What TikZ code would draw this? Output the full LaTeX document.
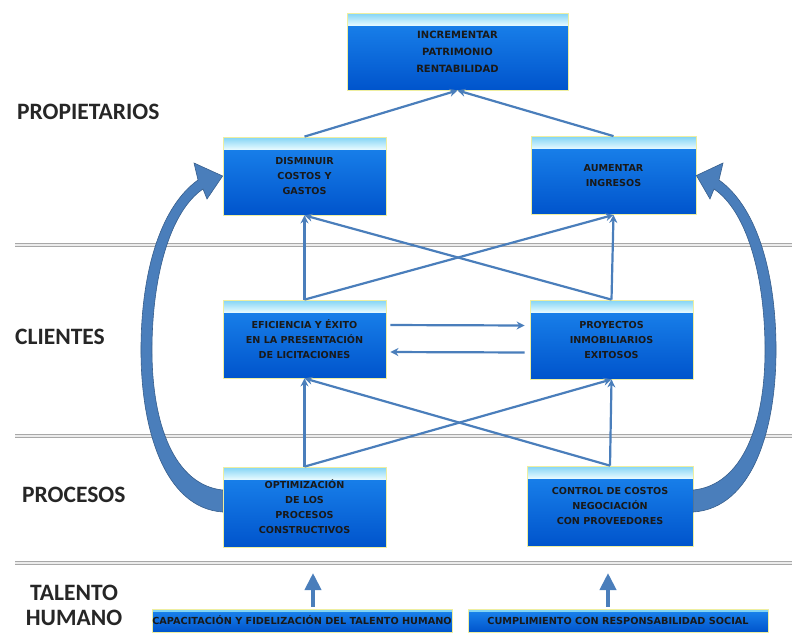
\documentclass[tikz,border=0pt]{standalone}
\usepackage{fontspec}
\setmainfont{DejaVu Sans}
\newfontfamily\labelfont{Carlito}
\usetikzlibrary{arrows.meta,calc}

\definecolor{linkblue}{RGB}{74,126,187}
\definecolor{boxtop}{RGB}{28,134,238}
\definecolor{boxbottom}{RGB}{0,84,204}
\definecolor{bandtop}{RGB}{130,212,245}
\definecolor{bandbottom}{RGB}{228,249,255}
\definecolor{boxedge}{RGB}{238,238,160}
\definecolor{rulegray}{RGB}{168,168,168}

\tikzset{
    goalbox/.style={draw=boxedge, line width=0.8pt, minimum width=163pt, minimum height=78pt,
        inner sep=0pt, align=center, text=black!90,
        font=\fontsize{9.6}{15}\selectfont\bfseries,
        path picture={
            \fill[top color=boxtop, bottom color=boxbottom]
                (path picture bounding box.south west) rectangle (path picture bounding box.north east);
            \fill[top color=bandtop, bottom color=bandbottom]
                ([yshift=-12pt]path picture bounding box.north west) rectangle (path picture bounding box.north east);
        }},
    basebar/.style={draw=boxedge, line width=0.8pt, minimum width=300pt, minimum height=23pt,
        inner sep=0pt, text=black!90, font=\fontsize{9.7}{10}\selectfont\bfseries,
        path picture={
            \fill[top color=boxtop, bottom color=boxbottom]
                (path picture bounding box.south west) rectangle (path picture bounding box.north east);
            \fill[bandtop]
                ([yshift=-3pt]path picture bounding box.north west) rectangle (path picture bounding box.north east);
        }},
    sectlabel/.style={font=\labelfont\fontsize{23.5}{25}\selectfont\bfseries, text=black!85, inner sep=0pt},
    link/.style={->, linkblue, line width=2.2pt},
    lift/.style={-{Triangle[length=17pt,width=16pt]}, linkblue, line width=4pt},
    bigarrow/.style={fill=linkblue, draw=linkblue!75!black, line width=0.6pt}
}

\begin{document}
\begin{tikzpicture}[x=1pt, y=-1pt, >={Stealth[length=8pt,width=8pt]}]
    \useasboundingbox (0,0) rectangle (792,633);

    % ====================
    % 1. Perspective rules and labels
    % ====================
    \foreach \y in {245, 436, 563} {
        \draw[rulegray, line width=4.5pt] (15,\y) -- (792,\y);
        \draw[white!85!gray, line width=1.3pt] (15,\y) -- (792,\y);
    }

    \node[sectlabel, anchor=west] (lprop) at (17,112) {PROPIETARIOS};
    \node[sectlabel, anchor=west] (lcli) at (15,337) {CLIENTES};
    \node[sectlabel, anchor=west] (lproc) at (22,495) {PROCESOS};
    \node[sectlabel, align=center] (ltal) at (74,605) {TALENTO\\HUMANO};

    % ====================
    % 2. Objectives
    % ====================
    \node[goalbox, minimum width=221pt, minimum height=77pt, font=\fontsize{10}{17}\selectfont\bfseries]
        (top) at (457.5,51.5) {INCREMENTAR\\PATRIMONIO\\RENTABILIDAD};

    \node[goalbox] (dism) at (304.5,176) {DISMINUIR\\COSTOS Y\\GASTOS};
    \node[goalbox, minimum width=165pt] (aum) at (613.5,175.5) {AUMENTAR\\INGRESOS};

    \node[goalbox] (efic) at (304.5,339) {EFICIENCIA Y ÉXITO\\EN LA PRESENTACIÓN\\DE LICITACIONES};
    \node[goalbox, minimum height=79pt] (proy) at (611.5,339.5) {PROYECTOS\\INMOBILIARIOS\\EXITOSOS};

    \node[goalbox, minimum height=80pt] (optim) at (304.5,507) {OPTIMIZACIÓN\\DE LOS\\PROCESOS\\CONSTRUCTIVOS};
    \node[goalbox, minimum width=166pt, minimum height=80pt] (contr) at (610,506) {CONTROL DE COSTOS\\NEGOCIACIÓN\\CON PROVEEDORES};

    \node[basebar] (capac) at (302,620.5) {CAPACITACIÓN Y FIDELIZACIÓN DEL TALENTO HUMANO};
    \node[basebar] (cumpl) at (618,620.5) {CUMPLIMIENTO CON RESPONSABILIDAD SOCIAL};

    % ====================
    % 3. Cause and effect links
    % ====================
    \draw[link] (dism.north) -- (top.south);
    \draw[link] (aum.north) -- (top.south);

    \draw[link] (efic.north) -- (dism.south);
    \draw[link] (efic.north) -- (aum.south);
    \draw[link] (proy.north) -- (aum.south);
    \draw[link] (proy.north) -- (dism.south);

    \draw[link, shorten <=4pt, shorten >=5pt] ([yshift=14pt]efic.east) -- ([yshift=14pt]proy.west);
    \draw[link, shorten <=5pt, shorten >=4pt] ([yshift=-13pt]proy.west) -- ([yshift=-13pt]efic.east);

    \draw[link] (optim.north) -- (efic.south);
    \draw[link] (optim.north) -- (proy.south);
    \draw[link] (contr.north) -- (proy.south);
    \draw[link] (contr.north) -- (efic.south);

    % short lifts from the base bars
    \coordinate (up1) at (313,573);
    \coordinate (up2) at (608,573);
    \draw[lift, shorten <=2pt] (capac.north -| up1) -- (up1);
    \draw[lift, shorten <=2pt] (cumpl.north -| up2) -- (up2);

    % ====================
    % 4. Big feedback arrows
    % ====================
    \fill[bigarrow] ($(optim.west)+(0,5)$) .. controls (165,508) and (140,430) .. (141,345)
        .. controls (142,265) and (163,205) .. (198,180) -- (194,163) -- (dism.west)
        -- (207,199) -- (203,189) .. controls (172,210) and (153,270) .. (152,345)
        .. controls (151,425) and (175,485) .. ($(optim.west)+(0,-17)$) -- cycle;
    \draw[bigarrow] ($(contr.east)+(0,6)$) .. controls (752,508) and (777,430) .. (776,345)
        .. controls (775,265) and (754,205) .. (719,180) -- (723,163) -- (aum.east)
        -- (710,199) -- (714,189) .. controls (745,210) and (764,270) .. (765,345)
        .. controls (766,425) and (742,485) .. ($(contr.east)+(0,-16)$) -- cycle;

\end{tikzpicture}
\end{document}
